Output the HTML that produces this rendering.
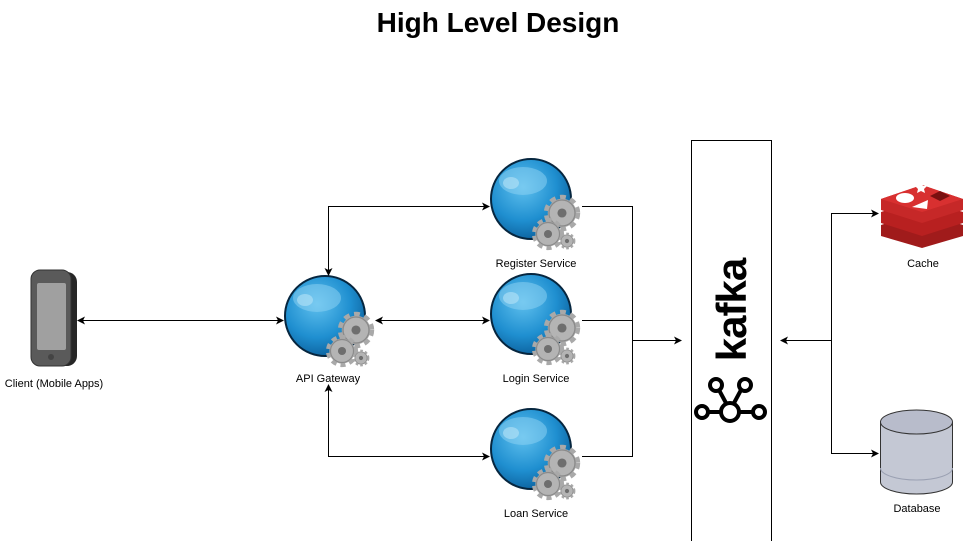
<!DOCTYPE html>
<html><head><meta charset="utf-8"><style>
html,body{margin:0;padding:0;background:#fff;}
svg{display:block;font-family:"Liberation Sans",sans-serif;}
</style></head><body>
<svg width="965" height="541" viewBox="0 0 965 541" xmlns="http://www.w3.org/2000/svg">
<defs>
<radialGradient id="gl" cx="0.4" cy="0.35" r="0.7">
<stop offset="0" stop-color="#5fc0ee"/><stop offset="0.6" stop-color="#1f8fd0"/><stop offset="1" stop-color="#0b5e9a"/>
</radialGradient>
<g id="gear">
<circle r="11" fill="#a9a9a9" stroke="#a9a9a9" stroke-width="6" stroke-dasharray="4 3.2"/>
<circle r="10" fill="#b4b4b4" stroke="#8a8a8a" stroke-width="1"/>
<circle r="3.5" fill="#6e6e6e"/>
</g>
<g id="globe">
<circle r="40" fill="url(#gl)" stroke="#06263f" stroke-width="2"/>
<ellipse cx="-8" cy="-18" rx="24" ry="14" fill="#8fd3f3" opacity="0.5"/>
<ellipse cx="-20" cy="-16" rx="8" ry="6" fill="#b6e2f6" opacity="0.6"/>
<use href="#gear" transform="translate(31,14) scale(1.3)"/>
<use href="#gear" transform="translate(17,35) scale(1.15)"/>
<use href="#gear" transform="translate(36,42) scale(0.6)"/>
</g>
<marker id="ah" markerWidth="8" markerHeight="8" refX="7" refY="4" orient="auto-start-reverse" markerUnits="userSpaceOnUse">
<path d="M0,0 L8,4 L0,8 L2,4 Z" fill="#000"/>
</marker>
</defs>

<text x="498" y="32" text-anchor="middle" font-size="28" font-weight="bold">High Level Design</text>

<!-- phone -->
<g>
<rect x="37" y="272" width="40" height="94" rx="10" fill="#262626"/>
<rect x="31" y="270" width="40" height="96" rx="9" fill="#5a5a5a" stroke="#333"/>
<rect x="37" y="283" width="29" height="67" rx="2" fill="#a0a0a0"/>
<circle cx="51" cy="357" r="3" fill="#444"/>
</g>
<text x="54" y="387" text-anchor="middle" font-size="11">Client (Mobile Apps)</text>

<use href="#globe" transform="translate(325,316)"/>
<text x="328" y="382" text-anchor="middle" font-size="11">API Gateway</text>
<use href="#globe" transform="translate(531,199)"/>
<text x="536" y="267" text-anchor="middle" font-size="11">Register Service</text>
<use href="#globe" transform="translate(531,314)"/>
<text x="536" y="382" text-anchor="middle" font-size="11">Login Service</text>
<use href="#globe" transform="translate(531,449)"/>
<text x="536" y="517" text-anchor="middle" font-size="11">Loan Service</text>

<g stroke="#000" stroke-width="1" fill="none">
<line x1="78" y1="320.5" x2="283" y2="320.5" marker-start="url(#ah)" marker-end="url(#ah)"/>
<line x1="376" y1="320.5" x2="489" y2="320.5" marker-start="url(#ah)" marker-end="url(#ah)"/>
<path d="M328.5,275 V206.5 H489" marker-start="url(#ah)" marker-end="url(#ah)"/>
<path d="M328.5,385 V456.5 H489" marker-start="url(#ah)" marker-end="url(#ah)"/>
<path d="M582,206.5 H632.5 V456.5 H582"/>
<line x1="582" y1="320.5" x2="632.5" y2="320.5"/>
<line x1="632.5" y1="340.5" x2="681" y2="340.5" marker-end="url(#ah)"/>
<line x1="831.5" y1="340.5" x2="781" y2="340.5" marker-end="url(#ah)"/>
<path d="M878,213.5 H831.5 V453.5 H878" marker-start="url(#ah)" marker-end="url(#ah)"/>
</g>

<!-- kafka -->
<rect x="691.5" y="140.5" width="80" height="402" fill="#fff" stroke="#000"/>
<text transform="translate(746,310) rotate(-90)" text-anchor="middle" font-size="42" font-weight="bold" letter-spacing="-1">kafka</text>
<g stroke="#000" stroke-width="4" fill="none">
<line x1="707" y1="412" x2="752" y2="412"/>
<line x1="719" y1="390" x2="726" y2="403"/>
<line x1="741" y1="390" x2="734" y2="403"/>
<circle cx="730" cy="412" r="9" fill="#fff"/>
<circle cx="702" cy="412" r="6" fill="#fff"/>
<circle cx="759" cy="412" r="6" fill="#fff"/>
<circle cx="716" cy="385" r="6" fill="#fff"/>
<circle cx="745" cy="385" r="6" fill="#fff"/>
</g>

<!-- redis -->
<g>
<path d="M881,225 L922,212 L963,225 L963,236 L922,248 L881,236 Z" fill="#a01b1b"/>
<path d="M881,212 L922,199 L963,212 L963,223 L922,236 L881,223 Z" fill="#b82020"/>
<path d="M881,199 L922,185 L963,199 L963,210 L922,223 L881,210 Z" fill="#c62828"/>
<path d="M881,199 L922,185 L963,199 L922,212 Z" fill="#d83030"/>
<ellipse cx="905" cy="198" rx="9" ry="5" fill="#fff"/>
<path d="M921,182 l2,4 4,0 -3,3 1,4 -4,-2 -4,2 1,-4 -3,-3 4,0z" fill="#fff"/>
<path d="M912,207 L928,200 L927,209 Z" fill="#fff"/>
<path d="M930,196 L940,191 L950,196 L940,201 Z" fill="#7a1010"/>
</g>
<text x="923" y="267" text-anchor="middle" font-size="11">Cache</text>

<!-- database -->
<g stroke="#333" stroke-width="1">
<path d="M880.5,422 V482 A36,12 0 0 0 952.5,482 V422" fill="#c4c8d4"/>
<ellipse cx="916.5" cy="422" rx="36" ry="12" fill="#b8bccb"/>
<path d="M880.5,468 A36,12 0 0 0 952.5,468" fill="none" stroke="#9aa0b2"/>
</g>
<text x="917" y="512" text-anchor="middle" font-size="11">Database</text>
</svg>
</body></html>
